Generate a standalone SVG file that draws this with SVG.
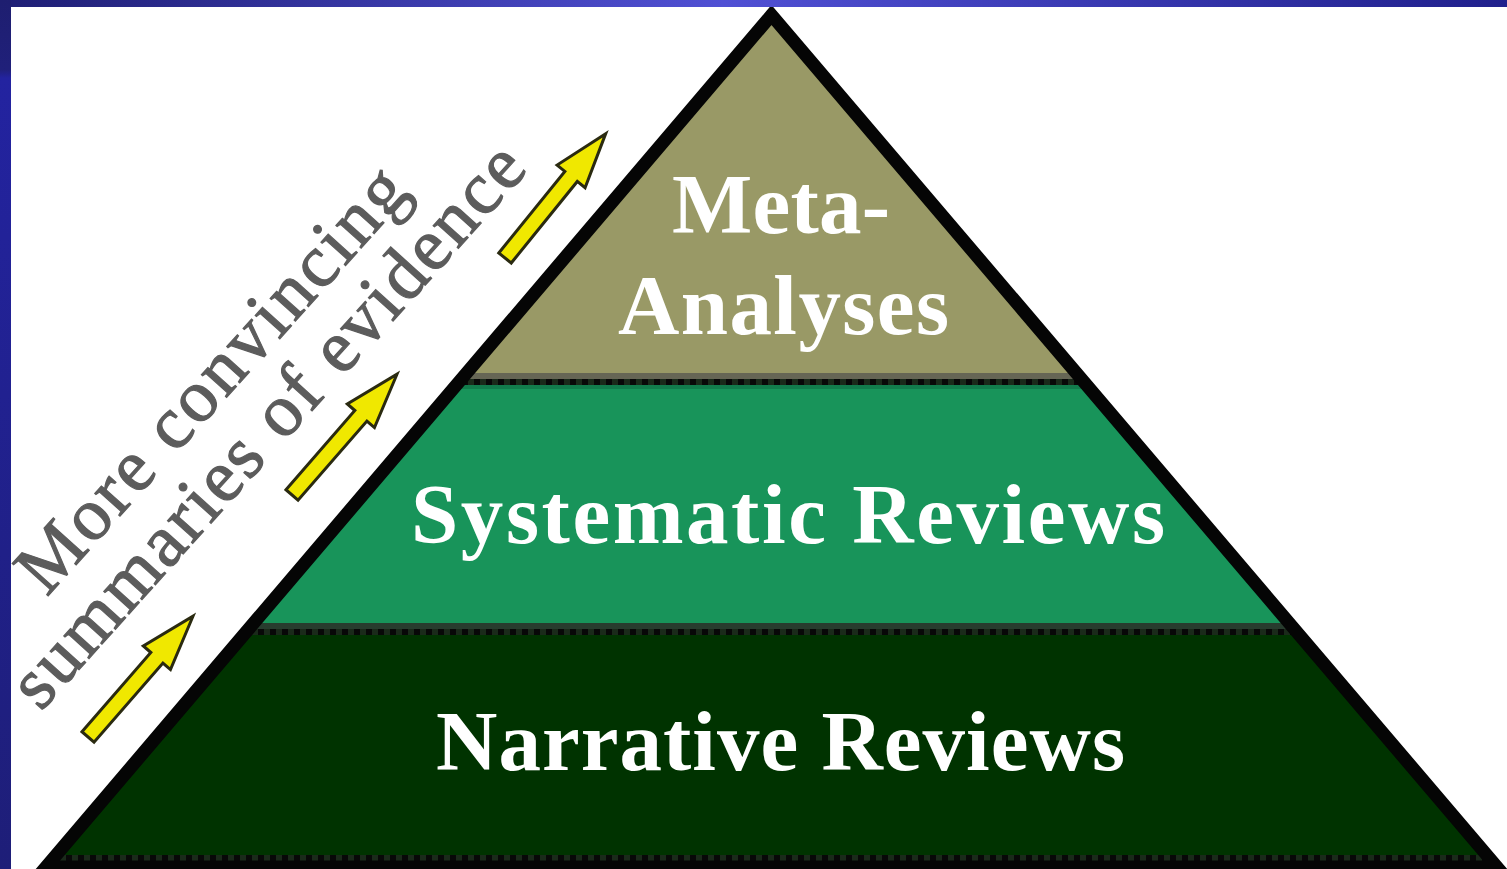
<svg xmlns="http://www.w3.org/2000/svg" width="1507" height="869" viewBox="0 0 1507 869">
  <defs>
    <linearGradient id="topband" x1="0" y1="0" x2="1" y2="0">
      <stop offset="0" stop-color="#1e1e74"/>
      <stop offset="0.48" stop-color="#5050d4"/>
      <stop offset="1" stop-color="#20208c"/>
    </linearGradient>
    <linearGradient id="leftband" x1="0" y1="0" x2="0" y2="1">
      <stop offset="0" stop-color="#1e1e70"/>
      <stop offset="0.08" stop-color="#20207a"/>
      <stop offset="0.09" stop-color="#2323a0"/>
      <stop offset="1" stop-color="#1e1e78"/>
    </linearGradient>
    <clipPath id="tri">
      <polygon points="771.5,15 46,867 1497,867"/>
    </clipPath>
    <g id="arrow">
      <polygon points="0,-8 105,-8 105,-18 160,0 105,18 105,8 0,8"/>
    </g>
    <style>
      .lbl { font-family: "Liberation Serif", "Times New Roman", serif; fill: #ffffff; font-size: 85px; font-weight: bold; }
      .side { font-family: "Liberation Serif", "Times New Roman", serif; fill: #5c5c5c; stroke: #5c5c5c; stroke-width: 1.2px; font-size: 74px; }
      .arr { fill: #f0e800; stroke: #2a2a10; stroke-width: 3; stroke-linejoin: miter; }
      .dots { stroke: #1a2a1a; stroke-width: 6; stroke-dasharray: 6 6; }
    </style>
  </defs>

  <rect x="0" y="0" width="1507" height="869" fill="#ffffff"/>

  <g id="pyramid">
    <g clip-path="url(#tri)">
      <rect x="0" y="0" width="1507" height="373" fill="#999966"/>
      <rect x="0" y="373" width="1507" height="6" fill="#666655"/>
      <rect x="0" y="379" width="1507" height="6" fill="#080808"/>
      <line x1="0" y1="382" x2="1507" y2="382" class="dots"/>
      <rect x="0" y="385" width="1507" height="238" fill="#18945a"/>
      <rect x="0" y="385" width="1507" height="4" fill="#127c4c"/>
      <rect x="0" y="623" width="1507" height="6" fill="#283c2e"/>
      <rect x="0" y="629" width="1507" height="6" fill="#080808"/>
      <line x1="0" y1="632" x2="1507" y2="632" class="dots"/>
      <rect x="0" y="635" width="1507" height="220" fill="#003300"/>
      <rect x="0" y="855" width="1507" height="14" fill="#080808"/>
      <line x1="0" y1="858" x2="1507" y2="858" class="dots"/>
    </g>
    <polygon points="771.5,15 46,867 1497,867" fill="none" stroke="#050505" stroke-width="13" stroke-linejoin="miter"/>
  </g>

  <g id="node-meta">
    <text class="lbl" x="672" y="233" textLength="218" lengthAdjust="spacing">Meta-</text>
    <text class="lbl" x="618" y="334" textLength="331" lengthAdjust="spacing">Analyses</text>
  </g>
  <g id="node-systematic">
    <text class="lbl" x="411" y="543" textLength="754" lengthAdjust="spacing">Systematic Reviews</text>
  </g>
  <g id="node-narrative">
    <text class="lbl" x="436" y="770" textLength="689" lengthAdjust="spacing">Narrative Reviews</text>
  </g>

  <g id="side-label">
    <text class="side" transform="translate(229,395) rotate(-48)" text-anchor="middle" textLength="545" lengthAdjust="spacing">More convincing</text>
    <text class="side" transform="translate(285,441) rotate(-48)" text-anchor="middle" textLength="730" lengthAdjust="spacing">summaries of evidence</text>
  </g>

  <g id="connectors">
    <use href="#arrow" class="arr" transform="translate(505,258) rotate(-51)"/>
    <use href="#arrow" class="arr" transform="translate(292,495) rotate(-49)"/>
    <use href="#arrow" class="arr" transform="translate(88,737) rotate(-49)"/>
  </g>

  <g id="border">
    <rect x="0" y="0" width="1507" height="7" fill="url(#topband)"/>
    <rect x="0" y="0" width="11" height="869" fill="url(#leftband)"/>
  </g>
</svg>
